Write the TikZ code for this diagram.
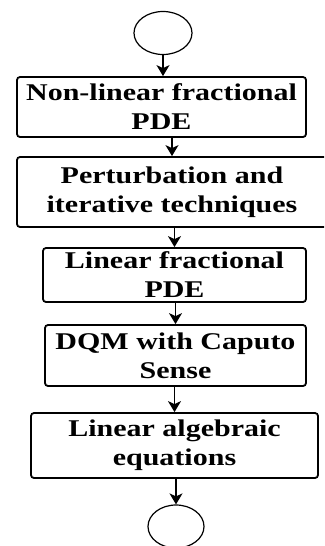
\documentclass[tikz,border=0pt]{standalone}
\usepackage{fontspec}
\setmainfont{Liberation Serif}[FakeStretch=1.25]
\usetikzlibrary{arrows.meta,shapes.geometric}

\tikzset{
    flowbox/.style={draw, rounded corners=3pt, line width=1.8pt, align=center,
        inner sep=0pt, font=\fontsize{24}{29}\selectfont\bfseries},
    terminal/.style={draw, ellipse, line width=1.2pt, inner sep=0pt},
    arr/.style={line width=1.3pt, -{Stealth[length=11pt, width=13pt, inset=3pt]}}
}

\begin{document}
\begin{tikzpicture}[x=1pt, y=-1pt]
    \useasboundingbox (0,0) rectangle (324,546);
    \clip (0,0) rectangle (324,546);
    \node[terminal, minimum width=58pt, minimum height=43pt] (start) at (163,33) {};
    \node[flowbox, minimum width=289pt, minimum height=60pt] (pde) at (161.5,107) {Non-linear fractional\\PDE};
    \node[flowbox, minimum width=310pt, minimum height=70pt] (pert) at (172,192) {Perturbation and\\iterative techniques};
    \node[flowbox, minimum width=263pt, minimum height=54pt] (lin) at (174.5,275) {Linear fractional\\PDE};
    \node[flowbox, minimum width=261pt, minimum height=61pt] (dqm) at (175.5,355.5) {DQM with Caputo\\Sense};
    \node[flowbox, minimum width=287pt, minimum height=65pt] (alg) at (174.5,445.5) {Linear algebraic\\equations};
    \node[terminal, minimum width=56pt, minimum height=43pt] (stop) at (176,526.5) {};
    % connectors
    \draw[arr] (start.south) -- (start.south |- pde.north);
    \draw[arr] (pde.south -| pert.north) -- (pert.north);
    \draw[arr] (pert.south -| lin.north) -- (lin.north);
    \draw[arr] (lin.south -| dqm.north) -- (dqm.north);
    \draw[arr] (dqm.south -| alg.north) -- (alg.north);
    \draw[arr] (alg.south -| stop.north) -- (stop.north);
\end{tikzpicture}
\end{document}
